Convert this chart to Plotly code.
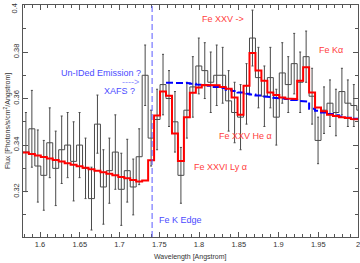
import plotly.graph_objects as go

# Bin centres [Angstrom] (bin width 0.0075 A)
wavelength = [1.58225, 1.58975, 1.59725, 1.60475, 1.61225, 1.61975, 1.62725, 1.63475,
              1.64225, 1.64975, 1.65725, 1.66475, 1.67225, 1.67975, 1.68725, 1.69475,
              1.70225, 1.70975, 1.71725, 1.72475, 1.73225, 1.73975, 1.74725, 1.75475,
              1.76225, 1.76975, 1.77725, 1.78475, 1.79225, 1.79975, 1.80725, 1.81475,
              1.82225, 1.82975, 1.83725, 1.84475, 1.85225, 1.85975, 1.86725, 1.87475,
              1.88225, 1.88975, 1.89725, 1.90475, 1.91225, 1.91975, 1.92725, 1.93475,
              1.94225, 1.94975, 1.95725, 1.96475, 1.97225, 1.97975, 1.98725, 1.99475,
              2.00225]
bin_width = 0.0075

flux = [0.337, 0.347, 0.331, 0.327, 0.341, 0.330, 0.338, 0.340, 0.333, 0.340,
        0.330, 0.317, 0.349, 0.322, 0.329, 0.337, 0.321, 0.329, 0.322, 0.335,
        0.370, 0.343, 0.351, 0.366, 0.360, 0.350, 0.327, 0.355, 0.365, 0.374,
        0.372, 0.367, 0.370, 0.370, 0.359, 0.354, 0.352, 0.362, 0.386, 0.369,
        0.361, 0.369, 0.352, 0.371, 0.366, 0.375, 0.367, 0.378, 0.361, 0.342,
        0.355, 0.358, 0.354, 0.363, 0.358, 0.357, 0.355]
flux_err = [0.017, 0.0165, 0.0155, 0.015, 0.015, 0.016, 0.0145, 0.014, 0.017, 0.014,
            0.013, 0.0135, 0.0125, 0.016, 0.014, 0.016, 0.0155, 0.0135, 0.012, 0.012,
            0.013, 0.012, 0.013, 0.013, 0.012, 0.013, 0.012, 0.012, 0.013, 0.012,
            0.012, 0.013, 0.013, 0.012, 0.013, 0.013, 0.014, 0.013, 0.012, 0.013,
            0.013, 0.013, 0.012, 0.013, 0.012, 0.013, 0.013, 0.011, 0.012, 0.010,
            0.010, 0.010, 0.010, 0.010, 0.010, 0.009, 0.010]

model_red = [0.3368, 0.3362, 0.3355, 0.3349, 0.3342, 0.3336, 0.3329, 0.3322, 0.3316, 0.3309,
             0.3303, 0.3296, 0.3290, 0.3283, 0.3277, 0.3270, 0.3263, 0.3257, 0.3250, 0.3244,
             0.3248, 0.3335, 0.3527, 0.3630, 0.3612, 0.3450, 0.3332, 0.3520, 0.3625, 0.3648,
             0.3658, 0.3660, 0.3657, 0.3650, 0.3642, 0.3605, 0.3530, 0.3655, 0.3796, 0.3720,
             0.3677, 0.3626, 0.3615, 0.3605, 0.3600, 0.3598, 0.3677, 0.3734, 0.3626, 0.3562,
             0.3545, 0.3530, 0.3525, 0.3520, 0.3516, 0.3512, 0.3510]

model_blue = [None] * 24 + [0.3668, 0.3668, 0.3667, 0.3666, 0.3664, 0.3660, 0.3658, 0.3655,
                            0.3650, 0.3645, 0.3638, 0.3632, 0.3626, 0.3621, 0.3617, 0.3613,
                            0.3609, 0.3606, 0.3603, 0.3600, 0.3598, 0.3594, 0.3590, 0.3587,
                            0.3556, 0.3548, 0.3540, 0.3534, 0.3528, 0.3523, 0.3518, 0.3514,
                            0.3512]

fe_k_edge = 1.741

x_ticks = [1.6, 1.65, 1.7, 1.75, 1.8, 1.85, 1.9, 1.95, 2.0]
x_ticktext = ["1.6", "1.65", "1.7", "1.75", "1.8", "1.85", "1.9", "1.95", "2"]
y_ticks = [0.32, 0.34, 0.36, 0.38, 0.40]
y_ticktext = ["0.32", "0.34", "0.36", "0.38", ""]
y_top_label = "0.4"


def steps(centres, values):
    xs, ys = [], []
    for c, v in zip(centres, values):
        if v is None:
            continue
        xs += [c - bin_width / 2, c + bin_width / 2]
        ys += [v, v]
    return xs, ys


FONT = "Liberation Sans, Arial, sans-serif"
GRAY = "#4a4a4a"
RED = "#ff0000"
BLUE = "#0000ff"
TXT_RED = "#ff4040"
TXT_BLUE = "#4b4bff"

fig = go.Figure()

hx, hy = steps(wavelength, flux)
fig.add_trace(go.Scatter(x=hx, y=hy, mode="lines",
                         line=dict(color=GRAY, width=1), hoverinfo="skip"))
fig.add_trace(go.Scatter(x=wavelength, y=flux, mode="markers",
                         marker=dict(size=1, color="rgba(0,0,0,0)"),
                         error_y=dict(type="data", array=flux_err, color=GRAY,
                                      thickness=1, width=1)))
bx, by = steps(wavelength, model_blue)
fig.add_trace(go.Scatter(x=bx, y=by, mode="lines",
                         line=dict(color=BLUE, width=2, dash="7px,3px")))
rx, ry = steps(wavelength, model_red)
fig.add_trace(go.Scatter(x=rx, y=ry, mode="lines",
                         line=dict(color=RED, width=2)))

fig.add_shape(type="line", x0=fe_k_edge, x1=fe_k_edge, y0=0, y1=1, yref="paper",
              line=dict(color="#5a5aff", width=1, dash="6px,3px"))

ann = [
    ("Un-IDed Emission ?", 1.7296, 0.3711, "right", TXT_BLUE),
    ("---->", 1.7275, 0.3672, "right", "#8c8cff"),
    ("XAFS ?", 1.7220, 0.3634, "right", TXT_BLUE),
    ("Fe K Edge", 1.7472, 0.3078, "left", TXT_BLUE),
    ("Fe XXV ->", 1.8013, 0.3944, "left", TXT_RED),
    ("Fe Kα", 1.9484, 0.3810, "left", TXT_RED),
    ("Fe XXV He α", 1.8226, 0.3440, "left", TXT_RED),
    ("Fe XXVI Ly α", 1.7912, 0.3306, "left", TXT_RED),
]
for text, x, y, xa, col in ann:
    fig.add_annotation(x=x, y=y, text=text, showarrow=False, xanchor=xa,
                       yanchor="middle", font=dict(family=FONT, size=9, color=col))

# top y tick label (kept clear of the page edge)
fig.add_annotation(x=-0.024, y=0.985, xref="paper", yref="paper", showarrow=False,
                   text=y_top_label, textangle=-90, xanchor="center", yanchor="middle",
                   font=dict(family=FONT, size=7.5, color="#333333"))

# axis titles
fig.add_annotation(x=0.5, y=-0.086, xref="paper", yref="paper", showarrow=False,
                   text="Wavelength [Angstrom]", xanchor="center", yanchor="middle",
                   font=dict(family=FONT, size=7, color="#333333"))
fig.add_annotation(x=-0.048, y=0.5, xref="paper", yref="paper", showarrow=False,
                   text="Flux [Photons/s/cm<sup>2</sup>/Angstrom]", textangle=-90,
                   xanchor="center", yanchor="middle",
                   font=dict(family=FONT, size=7, color="#333333"))

axis_common = dict(showline=True, linecolor="#555555", linewidth=1, mirror="allticks",
                   ticks="inside", ticklen=5, tickcolor="#555555", showgrid=False,
                   zeroline=False, automargin=False, ticklabeloverflow="allow",
                   tickfont=dict(family=FONT, size=7.5, color="#333333"))

fig.update_xaxes(range=[1.5786, 2.0], tickvals=x_ticks, ticktext=x_ticktext,
                 minor=dict(ticks="inside", dtick=0.01, tick0=1.6, ticklen=3,
                            tickcolor="#555555"),
                 **axis_common)
fig.update_yaxes(range=[0.3005, 0.4002], tickvals=y_ticks, ticktext=y_ticktext,
                 tickangle=-90,
                 minor=dict(ticks="inside", dtick=0.01, tick0=0.3, ticklen=3,
                            tickcolor="#555555"),
                 **axis_common)

fig.update_layout(width=360, height=263, showlegend=False,
                  margin=dict(l=23, r=2, t=5, b=26),
                  plot_bgcolor="white", paper_bgcolor="white")

fig.write_html("out.html", config={"displayModeBar": False},
               post_script="document.body.style.margin='0';document.body.style.padding='0';")
